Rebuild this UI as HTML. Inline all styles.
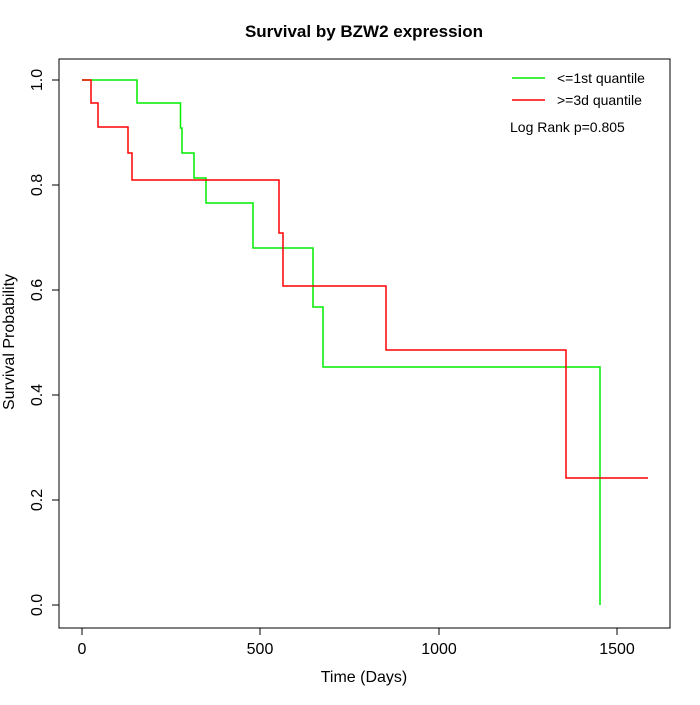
<!DOCTYPE html>
<html><head><style>body{margin:0;background:#fff}</style></head><body>
<svg width="700" height="700" xmlns="http://www.w3.org/2000/svg" font-family="Liberation Sans, sans-serif">
<rect width="700" height="700" fill="#fff"/>
<text x="364" y="37" text-anchor="middle" font-size="17" font-weight="bold">Survival by BZW2 expression</text>
<rect x="59" y="59" width="611" height="569" fill="none" stroke="#000"/>
<g stroke="#000">
<line x1="82" y1="628" x2="617" y2="628"/>
<line x1="82" y1="628" x2="82" y2="635"/><line x1="260" y1="628" x2="260" y2="635"/><line x1="439" y1="628" x2="439" y2="635"/><line x1="617" y1="628" x2="617" y2="635"/>
<line x1="59" y1="80" x2="59" y2="605"/>
<line x1="52" y1="605" x2="59" y2="605"/><line x1="52" y1="500" x2="59" y2="500"/><line x1="52" y1="395" x2="59" y2="395"/><line x1="52" y1="290" x2="59" y2="290"/><line x1="52" y1="185" x2="59" y2="185"/><line x1="52" y1="80" x2="59" y2="80"/>
</g>
<g font-size="16" text-anchor="middle">
<text x="82" y="654">0</text><text x="260" y="654">500</text><text x="439" y="654">1000</text><text x="617" y="654">1500</text>
<text x="364" y="682">Time (Days)</text>
<text transform="translate(42,605) rotate(-90)">0.0</text>
<text transform="translate(42,500) rotate(-90)">0.2</text>
<text transform="translate(42,395) rotate(-90)">0.4</text>
<text transform="translate(42,290) rotate(-90)">0.6</text>
<text transform="translate(42,185) rotate(-90)">0.8</text>
<text transform="translate(42,80) rotate(-90)">1.0</text>
<text transform="translate(14,342) rotate(-90)">Survival Probability</text>
</g>
<polyline fill="none" stroke="#00ee00" stroke-width="1.5" points="82,80 137,80 137,103 180.5,103 180.5,128 182,128 182,153 194,153 194,178 206,178 206,203 253,203 253,248 313,248 313,307 323,307 323,367 600,367 600,605"/>
<polyline fill="none" stroke="#ff0000" stroke-width="1.5" points="82,80 91,80 91,103 98,103 98,127 128,127 128,153 132,153 132,180 279,180 279,233 283,233 283,286 386,286 386,350 566,350 566,478 648,478"/>
<line x1="512" y1="78" x2="545" y2="78" stroke="#00ee00" stroke-width="1.5"/>
<line x1="512" y1="100" x2="545" y2="100" stroke="#ff0000" stroke-width="1.5"/>
<g font-size="14"><text x="557" y="83">&lt;=1st quantile</text><text x="557" y="105">&gt;=3d quantile</text><text x="510" y="132">Log Rank p=0.805</text></g>
</svg>
</body></html>
